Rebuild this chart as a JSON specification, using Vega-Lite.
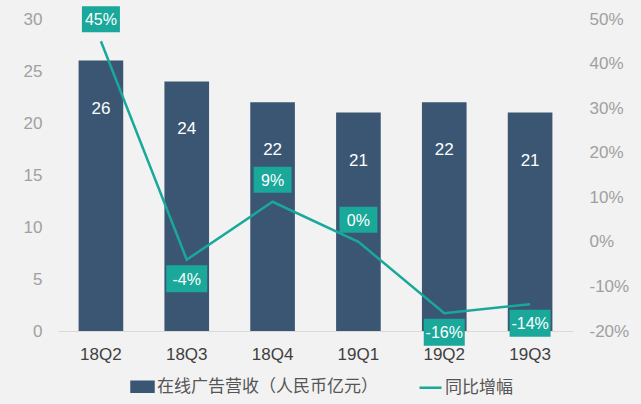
{
  "$schema": "https://vega.github.io/schema/vega-lite/v6.json",
  "autosize": {"type": "none"},
  "width": 515,
  "height": 312,
  "padding": {"left": 58, "top": 19, "right": 68, "bottom": 73},
  "background": "#f2f2f2",
  "config": {
    "view": {"stroke": null},
    "font": "Liberation Sans, Noto Sans CJK SC",
    "axis": {"grid": false, "domain": false, "ticks": false, "labelFont": "Liberation Sans", "titleFont": "Liberation Sans"}
  },
  "data": {
    "values": [
      {"q": "18Q2", "rev": 26, "yoy": 45, "yoyLabel": "45%"},
      {"q": "18Q3", "rev": 24, "yoy": -4, "yoyLabel": "-4%"},
      {"q": "18Q4", "rev": 22, "yoy": 9, "yoyLabel": "9%"},
      {"q": "19Q1", "rev": 21, "yoy": 0, "yoyLabel": "0%"},
      {"q": "19Q2", "rev": 22, "yoy": -16, "yoyLabel": "-16%"},
      {"q": "19Q3", "rev": 21, "yoy": -14, "yoyLabel": "-14%"}
    ]
  },
  "encoding": {
    "x": {
      "field": "q", "type": "nominal", "sort": null,
      "scale": {"paddingInner": 0.48, "paddingOuter": 0.24},
      "axis": {"title": null, "labelAngle": 0, "domain": true, "domainColor": "#d9d9d9", "domainWidth": 1, "labelPadding": 15, "labelFontSize": 17, "labelColor": "#404040"}
    }
  },
  "layer": [
    {
      "layer": [
        {
          "mark": {"type": "bar", "color": "#3b5673"},
          "encoding": {
            "y": {"field": "rev", "type": "quantitative", "scale": {"domain": [0, 30]},
              "axis": {"title": null, "values": [0, 5, 10, 15, 20, 25, 30], "labelPadding": 16, "labelFontSize": 17, "labelColor": "#a0a0a0"}},
            "color": {"datum": "在线广告营收（人民币亿元）", "type": "nominal",
              "scale": {"domain": ["在线广告营收（人民币亿元）", "同比增幅"], "range": ["#3b5673", "#19a89a"]},
              "legend": {
                "title": null, "orient": "none", "legendX": 72, "legendY": 355, "direction": "horizontal",
                "labelFontSize": 17, "labelColor": "#555555", "labelFont": "Noto Sans CJK SC", "labelLimit": 400,
                "columnPadding": 36, "symbolSize": 484, "labelOffset": 2,
                "encode": {
                  "symbols": {
                    "update": {
                      "shape": {"signal": "datum.value === '同比增幅' ? 'M-1,0H1' : 'M-1,-0.45H1V0.45H-1Z'"},
                      "fill": {"signal": "datum.value === '同比增幅' ? 'transparent' : '#3b5673'"},
                      "stroke": {"signal": "datum.value === '同比增幅' ? '#19a89a' : 'transparent'"},
                      "strokeWidth": {"value": 2.5},
                      "opacity": {"value": 1}
                    }
                  }
                }
              }
            }
          }
        },
        {
          "mark": {"type": "text", "color": "white", "fontSize": 17, "dy": 48, "font": "Liberation Sans"},
          "encoding": {
            "y": {"field": "rev", "type": "quantitative", "scale": {"domain": [0, 30]}},
            "text": {"field": "rev", "type": "quantitative"}
          }
        }
      ]
    },
    {
      "encoding": {
        "y": {"field": "yoy", "type": "quantitative", "scale": {"domain": [-20, 50]},
          "axis": {"title": null, "orient": "right", "values": [-20, -10, 0, 10, 20, 30, 40, 50], "labelExpr": "datum.value + '%'", "labelPadding": 16, "labelFontSize": 17, "labelColor": "#a0a0a0"}}
      },
      "layer": [
        {
          "mark": {"type": "line", "color": "#19a89a", "strokeWidth": 2.5},
          "encoding": {
            "color": {"datum": "同比增幅", "type": "nominal"}
          }
        },
        {
          "transform": [{"filter": "datum.yoy >= 0"}],
          "layer": [
            {
              "mark": {"type": "point", "shape": "M-1,-0.684H1V0.684H-1Z", "size": 1444, "filled": true, "color": "#19a89a", "opacity": 1, "yOffset": -22}
            },
            {
              "mark": {"type": "text", "color": "white", "fontSize": 16, "yOffset": -21, "font": "Liberation Sans"},
              "encoding": {"text": {"field": "yoyLabel", "type": "nominal"}}
            }
          ]
        },
        {
          "transform": [{"filter": "datum.yoy < 0"}],
          "layer": [
            {
              "mark": {"type": "point", "shape": "M-1,-0.66H1V0.66H-1Z", "size": 1681, "filled": true, "color": "#19a89a", "opacity": 1, "yOffset": 19}
            },
            {
              "mark": {"type": "text", "color": "white", "fontSize": 16, "yOffset": 20, "font": "Liberation Sans"},
              "encoding": {"text": {"field": "yoyLabel", "type": "nominal"}}
            }
          ]
        }
      ]
    }
  ],
  "resolve": {"scale": {"y": "independent"}}
}
